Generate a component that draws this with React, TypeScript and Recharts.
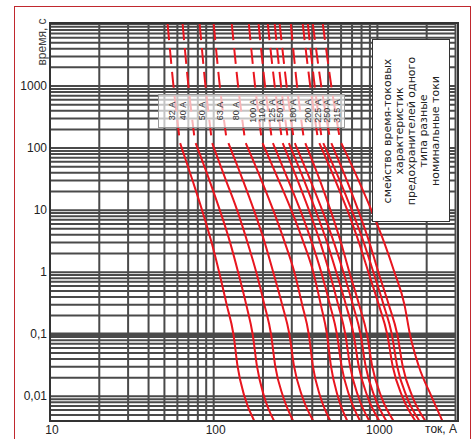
import { CartesianGrid, Line, LineChart, XAxis, YAxis } from "recharts";

const upperTimes = [10000, 1000, 160];
const lowerTimes = [120, 30, 10, 3, 1, 0.3, 0.1, 0.03, 0.01, 0.004];

// current (A) of each fuse curve at upperTimes (dashed part)
const upperCurrents = [
  [52.3, 56.8, 61.5],
  [64.6, 70.1, 76.0],
  [82.1, 89.1, 96.5],
  [100, 109, 119],
  [129, 141, 154],
  [164, 179, 195],
  [188, 206, 225],
  [214, 236, 259],
  [236, 258, 282],
  [253, 279, 306],
  [296, 323, 353],
  [350, 389, 430],
  [376, 414, 454],
  [403, 454, 509],
  [464, 523, 585],
];

// current (A) of each fuse curve at lowerTimes (solid part)
const lowerCurrents = [
  [62.4, 74.3, 84.9, 97.1, 108, 120, 132, 140, 154, 177],
  [77.6, 94.3, 109, 126, 141, 158, 173, 184, 203, 234],
  [97.9, 119, 139, 161, 182, 204, 224, 238, 265, 306],
  [123, 151, 176, 205, 231, 262, 290, 310, 347, 406],
  [157, 196, 231, 272, 311, 347, 381, 404, 447, 516],
  [199, 250, 298, 354, 406, 451, 492, 521, 573, 655],
  [230, 286, 338, 398, 454, 513, 566, 605, 675, 784],
  [264, 326, 382, 448, 509, 576, 637, 682, 763, 893],
  [288, 357, 419, 493, 561, 642, 715, 770, 869, 1029],
  [313, 390, 460, 543, 620, 708, 789, 849, 959, 1135],
  [363, 446, 517, 599, 674, 773, 864, 931, 1054, 1256],
  [442, 554, 655, 772, 881, 1019, 1148, 1242, 1418, 1708],
  [467, 589, 697, 826, 945, 1090, 1225, 1323, 1507, 1807],
  [523, 651, 763, 894, 1014, 1173, 1322, 1430, 1633, 1966],
  [602, 768, 919, 1101, 1271, 1463, 1580, 1794, 2139, 2498],
];

const ratingLabels = ["32 А", "40 А", "50 А", "63 А", "80 А", "100 А", "110 А", "125 А", "150 А", "180 А", "200 А", "225 А", "250 А", "315 А"];

const xTicks = [10, 100, 1000];
const xTickLabels = ["10", "100", "1000"];
const yTicks = [0.01, 0.1, 1, 10, 100, 1000];
const yTickLabels = ["0,01", "0,1", "1", "10", "100", "1000"];

const noteLines = ["смейство время-токовых", "характеристик", "предохранителей одного", "типа разные", "номинальные токи"];

const gridSteps = [1, 2, 3, 4, 5, 6, 7, 8, 9];
const xGrid = [10, 100, 1000].flatMap((d) => gridSteps.map((s) => s * d)).filter((v) => v <= 3000);
const yGrid = [0.001, 0.01, 0.1, 1, 10, 100, 1000, 10000]
  .flatMap((d) => gridSteps.map((s) => s * d))
  .filter((v) => v >= 0.004 && v <= 10000);

const RED = "#e8161f";
const GRID = "#4a4a4a";
const FONT = "'Liberation Sans', Arial, sans-serif";

const curves = upperCurrents.map((row, k) => ({
  upper: upperTimes.map((t, j) => ({ i: row[j], t })),
  lower: lowerTimes.map((t, j) => ({ i: lowerCurrents[k][j], t })),
}));

// x positions of the rotated labels in the label strip
const labelX = [172, 183, 202, 220, 236, 253, 262, 272, 280, 293, 308, 318, 327, 337];

const XTick = ({ x, y, index }: any) => (
  <text x={x + 2} y={y + 1} textAnchor="middle" dominantBaseline="central" fontSize={12} fill="#222" fontFamily={FONT}>
    {xTickLabels[index]}
  </text>
);

const YTick = ({ y, index }: any) => (
  <text x={47} y={y} textAnchor="end" dominantBaseline="central" fontSize={12} fill="#222" fontFamily={FONT}>
    {yTickLabels[index]}
  </text>
);

export default function App() {
  return (
    <div style={{ position: "fixed", left: 0, top: 0, width: 474, height: 439, background: "#fff", overflow: "hidden" }}>
      <div style={{ position: "absolute", left: 14, top: 6, width: 457, height: 460, border: "1.5px solid #c0282e", boxSizing: "border-box" }} />
      <div style={{ position: "absolute", left: 0, top: 0 }}>
        <LineChart width={474} height={439} margin={{ top: 24, right: 18.5, bottom: 0, left: 0 }}>
          <CartesianGrid stroke={GRID} strokeWidth={2} horizontalValues={yGrid} verticalValues={xGrid} />
          <CartesianGrid stroke={GRID} strokeWidth={3.5} vertical={false} horizontalValues={[0.1]} />
          <XAxis
            type="number"
            dataKey="i"
            scale="log"
            domain={[10, 3000]}
            allowDataOverflow
            ticks={xTicks}
            interval={0}
            height={18}
            axisLine={false}
            tickLine={false}
            tick={XTick}
          />
          <YAxis
            type="number"
            scale="log"
            domain={[0.004, 10000]}
            allowDataOverflow
            ticks={yTicks}
            interval={0}
            width={50}
            axisLine={false}
            tickLine={false}
            tick={YTick}
          />
          {curves.map((c, k) => (
            <Line
              key={`u${k}`}
              data={c.upper}
              dataKey="t"
              type="monotone"
              stroke={RED}
              strokeWidth={2}
              strokeDasharray="16 8"
              dot={false}
              activeDot={false}
              isAnimationActive={false}
            />
          ))}
          {curves.map((c, k) => (
            <Line
              key={`l${k}`}
              data={c.lower}
              dataKey="t"
              type="monotone"
              stroke={RED}
              strokeWidth={2}
              dot={false}
              activeDot={false}
              isAnimationActive={false}
            />
          ))}
        </LineChart>
      </div>

      {/* plot frame */}
      <div style={{ position: "absolute", left: 48.5, top: 22, width: 410, height: 400, border: "2.5px solid #333", boxSizing: "border-box" }} />

      {/* label strip */}
      <div style={{ position: "absolute", left: 158, top: 94, width: 187, height: 34, background: "rgba(255,255,255,0.68)", border: "1px solid #999", boxSizing: "border-box" }} />
      {ratingLabels.map((lbl, k) => (
        <div
          key={lbl}
          style={{
            position: "absolute",
            left: labelX[k],
            top: 111,
            transform: "translate(-50%, -50%) rotate(-90deg)",
            whiteSpace: "nowrap",
            fontFamily: FONT,
            fontSize: 9,
            lineHeight: 1,
            color: "#333",
          }}
        >
          {lbl}
        </div>
      ))}

      {/* note box */}
      <div style={{ position: "absolute", left: 372, top: 39, width: 78, height: 183, background: "#fff", border: "1px solid #333", boxSizing: "border-box" }}>
        <div
          style={{
            position: "absolute",
            left: (76 - 181) / 2,
            top: (181 - 76) / 2,
            width: 181,
            height: 76,
            transform: "rotate(-90deg)",
            display: "flex",
            flexDirection: "column",
            justifyContent: "center",
            alignItems: "center",
            fontFamily: "'DejaVu Sans', sans-serif",
            fontSize: 11,
            lineHeight: "12px",
            color: "#222",
            whiteSpace: "nowrap",
          }}
        >
          {noteLines.map((l) => (
            <div key={l}>{l}</div>
          ))}
        </div>
      </div>

      {/* axis titles */}
      <div
        style={{
          position: "absolute",
          left: 42,
          top: 42,
          transform: "translate(-50%, -50%) rotate(-90deg)",
          whiteSpace: "nowrap",
          fontFamily: FONT,
          fontSize: 12,
          color: "#444",
          lineHeight: 1,
        }}
      >
        время, с
      </div>
      <div style={{ position: "absolute", right: 474 - 457, top: 422, fontFamily: FONT, fontSize: 12, color: "#222", lineHeight: "14px" }}>
        ток, А
      </div>
    </div>
  );
}
